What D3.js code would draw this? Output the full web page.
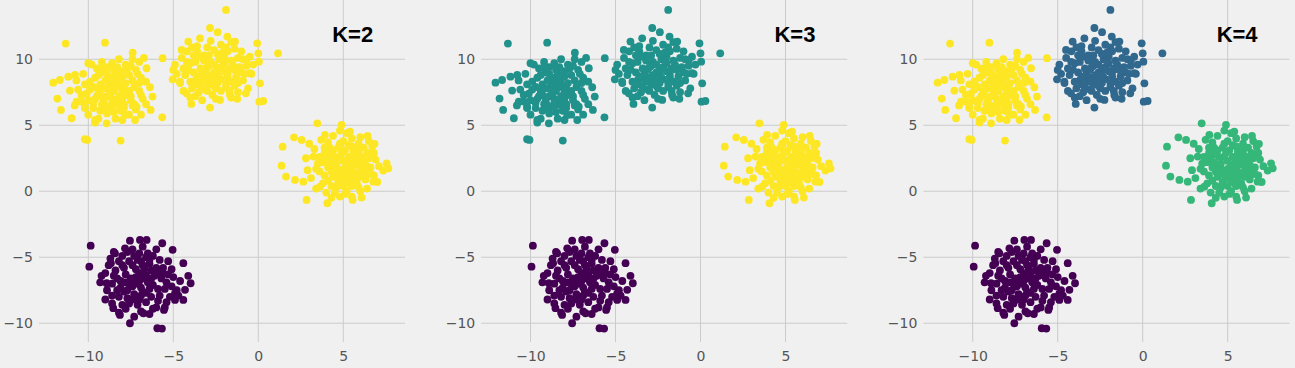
<!DOCTYPE html>
<html>
<head>
<meta charset="utf-8">
<script src="https://cdn.jsdelivr.net/npm/d3@7"></script>
<style>
  html, body { margin: 0; padding: 0; background: #f0f0f0; }
  svg { display: block; }
</style>
</head>
<body>
<svg id="chart" width="1295" height="368"></svg>
<script>
// ---- Data ----
const clusterA = [
  [-8.5,7.6],[-8.1,8.0],[-8.9,7.2],[-9.3,8.1],[-7.7,7.3],[-8.3,6.8],[-8.7,8.6],[-9.6,7.0],[-7.4,8.4],[-8.0,9.1],
  [-9.1,9.0],[-9.9,8.3],[-10.1,7.4],[-9.7,6.3],[-8.9,5.9],[-8.1,6.1],[-7.3,6.6],[-7.0,7.6],[-7.2,9.2],[-7.8,9.6],
  [-8.6,9.7],[-9.5,9.3],[-10.3,8.9],[-10.4,6.8],[-9.2,6.6],[-8.4,5.5],[-7.6,5.8],[-6.9,8.6],[-6.8,7.0],[-7.9,7.8],
  [-8.8,8.2],[-9.4,7.6],[-8.2,7.2],[-7.5,6.9],[-9.0,6.5],[-10.0,5.8],[-9.8,9.6],[-8.9,9.4],[-7.0,9.8],[-6.6,8.3],
  [-7.6,8.8],[-8.4,8.4],[-9.7,7.9],[-10.6,7.7],[-10.2,6.3],[-9.4,5.5],[-8.6,6.4],[-7.9,6.6],[-7.2,6.2],[-6.6,6.6],
  [-6.9,5.8],[-8.0,5.4],[-9.6,5.2],[-10.7,8.4],[-10.8,6.5],[-9.2,9.8],[-8.2,10.0],[-7.4,10.0],[-8.6,7.0],[-9.1,7.8],
  [-8.3,7.9],[-8.7,7.4],[-8.0,7.0],[-9.0,8.4],[-8.4,8.9],[-7.8,8.2],[-9.3,7.3],[-8.6,6.7],[-7.6,7.6],[-9.1,6.9],
  [-8.2,8.5],[-8.9,8.9],[-9.6,8.6],[-9.9,7.7],[-7.3,7.9],[-7.9,6.3],[-8.5,6.0],[-9.3,6.1],[-10.0,6.9],[-7.1,8.9],
  [-7.7,9.3],[-8.3,9.4],[-9.4,8.8],[-10.2,8.1],[-6.9,7.3],[-7.4,6.5],[-8.8,7.7],[-8.0,7.5],[-9.5,7.2],[-8.6,8.0],
  [-7.5,7.2],[-8.2,6.5],[-9.7,6.7],[-10.4,7.3],[-7.0,8.2],[-8.9,6.3],[-8.0,8.7],[-9.2,9.4],[-7.5,9.5],[-8.5,9.2],
  [-11.33,11.19],[-9.02,11.26],[-7.39,10.5],[-6.73,10.1],[-5.63,10.08],[-12.06,8.23],[-11.82,7.02],[-11.61,6.16],
  [-10.98,5.53],[-10.2,3.94],[-10.06,3.89],[-8.1,3.84],[-7.25,5.4],[-6.33,6.16],[-6.22,7.17],[-6.37,7.88],
  [-5.65,5.6],[-6.57,9.32],[-11.08,7.63],[-11.67,8.43],[-10.78,8.81],[-10.0,9.7],[-9.6,5.4],[-8.92,5.15],
  [-7.84,5.78],[-7.16,6.41],[-10.2,6.41],[-10.69,6.79],[-11.18,8.68]
];
const clusterB = [
  [-2.6,9.0],[-2.2,9.4],[-3.0,8.6],[-3.4,9.3],[-1.8,8.7],[-2.4,8.2],[-2.8,9.8],[-3.7,8.4],[-1.5,9.6],[-2.0,10.2],
  [-3.2,10.3],[-4.0,9.7],[-4.3,8.8],[-3.9,7.8],[-3.1,7.7],[-2.2,7.6],[-1.4,8.0],[-1.0,9.0],[-1.2,10.1],[-1.8,10.6],
  [-2.6,10.7],[-3.6,10.6],[-4.5,10.1],[-4.6,8.2],[-3.5,7.5],[-2.7,7.3],[-1.9,7.9],[-0.9,8.4],[-0.7,9.5],[-2.4,8.8],
  [-3.3,8.9],[-2.0,9.1],[-1.6,8.3],[-2.9,8.1],[-3.8,9.0],[-4.4,7.6],[-4.2,10.6],[-3.0,10.9],[-1.4,10.8],[-0.5,10.2],
  [-0.4,8.9],[-1.2,7.5],[-2.5,7.0],[-3.3,6.9],[-4.0,7.1],[-4.8,8.9],[-4.9,9.6],[-3.6,11.0],[-2.2,11.1],[-1.0,10.6],
  [-0.3,9.6],[-0.6,7.8],[-1.6,7.1],[-2.9,9.5],[-2.3,10.0],[-1.7,9.3],[-3.6,8.1],[-2.8,11.4],[-1.6,11.3],[-3.9,10.9],
  [-2.4,9.2],[-2.8,8.8],[-2.2,8.5],[-3.1,9.2],[-2.0,9.7],[-2.6,9.6],[-3.4,8.6],[-1.9,8.2],[-2.7,8.4],[-3.2,9.9],
  [-1.6,9.9],[-3.7,9.8],[-4.1,9.2],[-3.6,8.7],[-1.3,8.7],[-1.1,9.4],[-2.1,10.5],[-2.9,10.3],[-3.5,10.2],[-4.0,8.3],
  [-2.5,7.8],[-1.7,7.6],[-3.2,8.3],[-1.4,9.2],[-0.9,10.0],[-2.3,8.6],[-3.0,9.4],[-2.1,9.9],[-3.8,10.3],[-4.2,9.8],
  [-1.8,9.0],[-2.6,8.0],[-3.4,7.9],[-1.2,8.2],[-0.8,8.9],[-2.4,10.4],[-3.0,7.6],[-1.9,10.9],[-4.4,9.3],[-3.7,7.2],
  [-1.9,13.74],[-2.84,12.37],[-2.39,12.05],[-0.06,11.21],[1.16,10.45],[0.0,10.45],[0.04,9.82],[0.1,8.18],
  [0.06,6.79],[0.29,6.84],[-0.73,7.42],[-1.24,7.0],[-2.84,6.34],[-3.94,6.62],[-5.04,8.48],[-5.0,9.19],
  [-4.51,10.71],[-4.12,11.34],[-3.43,11.59],[-1.82,11.72],[-1.37,11.34],[-0.69,9.95],[-0.49,8.94],
  [-4.22,7.42],[-2.25,6.92],[-1.67,7.3],[-4.61,8.31]
];
const clusterC = [
  [5.0,1.7],[5.4,2.1],[4.6,1.3],[4.2,2.2],[5.8,1.4],[5.2,0.9],[4.8,2.6],[3.9,1.2],[6.1,2.3],[5.6,3.0],
  [4.4,3.1],[3.6,2.6],[3.4,1.7],[3.8,0.6],[4.6,0.3],[5.5,0.4],[6.3,0.9],[6.6,1.8],[6.4,2.9],[5.9,3.6],
  [5.0,3.8],[4.1,3.7],[3.3,3.2],[3.1,1.0],[4.0,-0.1],[5.1,-0.2],[6.0,0.0],[6.8,1.2],[6.9,2.4],[5.3,1.5],
  [4.5,1.9],[5.7,2.5],[5.0,2.3],[4.9,1.0],[4.3,1.5],[5.6,1.0],[6.2,1.6],[4.7,3.3],[5.3,3.5],[5.9,2.9],
  [3.7,3.9],[4.4,4.2],[5.2,4.4],[6.0,4.1],[6.7,3.4],[7.1,1.9],[7.0,0.7],[6.4,0.2],[5.5,-0.4],[4.3,-0.5],
  [3.4,0.2],[2.9,1.6],[2.8,2.5],[3.0,3.6],[4.8,4.6],[5.5,4.0],[3.9,2.9],[4.1,0.8],[5.8,0.6],[6.5,3.8],
  [5.2,1.9],[4.8,1.5],[5.5,1.7],[4.6,2.1],[5.1,1.2],[5.7,2.0],[4.4,1.1],[5.3,2.6],[4.9,2.9],[6.0,1.9],
  [4.1,1.8],[3.8,2.2],[4.7,0.7],[5.4,0.6],[6.0,1.1],[5.8,3.2],[4.5,2.6],[4.0,2.6],[5.1,3.1],[6.3,2.0],
  [6.5,2.5],[6.6,1.3],[3.6,1.5],[4.3,0.4],[5.0,0.4],[5.9,0.3],[4.2,3.3],[5.5,3.4],[6.2,3.3],[4.8,3.6],
  [3.5,2.1],[4.6,1.7],[5.6,2.7],[4.2,2.8],[5.2,0.0],[6.8,2.9],[3.9,3.3],[4.5,-0.1],[6.1,2.6],[5.4,1.3],
  [3.47,5.15],[4.9,5.03],[5.39,4.52],[6.43,4.19],[6.84,3.59],[6.76,2.88],[7.55,2.12],[7.65,1.74],
  [7.35,1.57],[6.76,0.73],[6.08,-0.48],[5.55,-0.66],[4.8,-0.4],[4.06,-0.91],[2.84,-0.66],[2.16,0.86],
  [1.63,1.11],[1.37,1.94],[1.43,3.38],[2.1,4.09],[2.55,3.89],[3.92,4.27],[2.65,0.73],[3.24,2.63],
  [6.37,1.36],[5.98,2.37],[3.63,0.35]
];
const clusterD = [
  [-7.0,-6.8],[-6.6,-6.4],[-7.4,-7.2],[-7.8,-6.3],[-6.2,-7.1],[-6.8,-7.6],[-7.2,-5.9],[-8.1,-7.3],[-5.9,-6.2],[-6.4,-5.5],
  [-7.6,-5.3],[-8.4,-6.0],[-8.6,-7.0],[-8.2,-8.0],[-7.4,-8.2],[-6.6,-8.4],[-5.8,-7.9],[-5.4,-6.9],[-5.6,-5.8],[-6.2,-4.9],
  [-7.0,-4.7],[-8.0,-4.9],[-8.8,-5.6],[-8.9,-7.5],[-8.6,-8.5],[-7.8,-8.9],[-6.9,-9.1],[-6.0,-8.8],[-5.2,-8.0],[-5.0,-6.5],
  [-4.8,-7.5],[-5.3,-5.3],[-6.0,-4.4],[-6.8,-4.2],[-7.4,-4.4],[-7.9,-7.6],[-6.3,-6.0],[-7.2,-6.5],[-6.9,-7.9],[-6.4,-7.4],
  [-5.7,-6.6],[-7.6,-7.0],[-8.3,-6.6],[-8.0,-5.6],[-7.1,-5.2],[-6.6,-5.0],[-5.1,-5.9],[-4.6,-6.8],[-4.7,-7.9],[-5.5,-8.8],
  [-6.4,-9.3],[-7.3,-9.5],[-8.2,-9.2],[-9.0,-8.2],[-9.3,-6.9],[-9.0,-6.2],[-5.9,-7.4],[-7.7,-8.1],[-6.8,-5.6],[-8.5,-4.6],
  [-6.8,-6.6],[-7.2,-7.0],[-6.5,-6.9],[-7.5,-6.6],[-7.0,-6.2],[-6.9,-7.3],[-7.7,-7.5],[-6.3,-6.6],[-7.9,-5.8],[-6.0,-5.8],
  [-6.7,-5.9],[-7.4,-5.6],[-8.2,-5.3],[-8.5,-6.4],[-8.3,-7.5],[-7.1,-8.6],[-6.3,-8.0],[-5.5,-7.4],[-5.3,-6.3],[-5.8,-5.2],
  [-6.5,-4.7],[-7.7,-4.6],[-6.1,-6.4],[-7.6,-8.5],[-8.6,-7.9],[-6.6,-7.7],[-5.9,-8.3],[-5.1,-7.2],[-6.9,-5.3],[-7.3,-4.9],
  [-8.7,-5.1],[-8.0,-8.6],[-7.0,-8.2],[-6.2,-8.9],[-5.6,-6.2],[-7.8,-6.9],[-6.4,-5.2],[-7.3,-7.8],[-8.1,-6.8],[-5.4,-8.4],
  [-9.86,-4.12],[-9.94,-5.71],[-7.55,-3.74],[-6.96,-3.69],[-6.57,-3.69],[-5.65,-3.94],[-5.04,-4.44],[-4.41,-5.45],
  [-4.12,-6.41],[-3.98,-6.97],[-4.41,-8.23],[-4.9,-8.23],[-5.55,-8.99],[-5.94,-10.38],[-5.67,-10.4],[-6.76,-9.24],
  [-7.55,-10.0],[-8.14,-9.37],[-8.53,-8.86],[-9.22,-6.41],[-8.92,-6.97],[-8.67,-5.45],[-8.43,-4.7],[-7.84,-4.32],
  [-4.31,-7.47],[-4.9,-7.73]
];
const clusters = [clusterA, clusterB, clusterC, clusterD];

const panelTitles = ["K=2", "K=3", "K=4"];
const kValues = [2, 3, 4];
// cluster label assigned to each blob (A, B, C, D) in each panel
const labelsK2 = [1, 1, 1, 0];
const labelsK3 = [1, 1, 2, 0];
const labelsK4 = [3, 1, 2, 0];
const panelLabels = [labelsK2, labelsK3, labelsK4];

const xTicks = [-10, -5, 0, 5];
const yTicks = [-10, -5, 0, 5, 10];

// ---- Layout ----
const svg = d3.select("#chart");
const panelLeft0 = 39, panelStep = 442.2, panelW = 366;
const plotTop = 0, plotH = 342;

const x = d3.scaleLinear().domain([-12.9, 8.63]).range([0, panelW]);
const y = d3.scaleLinear().domain([-11.42, 14.49]).range([plotH, plotTop]);

const fmt = d => (d < 0 ? "\u2212" + Math.abs(d) : String(d));

panelTitles.forEach((title, i) => {
  const k = kValues[i];
  const color = d3.scaleSequential(d3.interpolateViridis).domain([0, k - 1]);
  const g = svg.append("g").attr("transform", `translate(${panelLeft0 + i * panelStep},0)`);

  // grid
  g.append("g").selectAll("line").data(xTicks).join("line")
    .attr("x1", d => x(d)).attr("x2", d => x(d))
    .attr("y1", plotTop).attr("y2", plotH)
    .attr("stroke", "#cbcbcb").attr("stroke-width", 1);
  g.append("g").selectAll("line").data(yTicks).join("line")
    .attr("x1", 0).attr("x2", panelW)
    .attr("y1", d => y(d)).attr("y2", d => y(d))
    .attr("stroke", "#cbcbcb").attr("stroke-width", 1);

  // axes (tick labels only)
  const xAxis = d3.axisBottom(x).tickValues(xTicks).tickSize(0).tickPadding(9).tickFormat(fmt);
  const yAxis = d3.axisLeft(y).tickValues(yTicks).tickSize(0).tickPadding(6).tickFormat(fmt);
  const gx = g.append("g").attr("transform", `translate(0,${plotH})`).call(xAxis);
  const gy = g.append("g").call(yAxis);
  [gx, gy].forEach(a => {
    a.select(".domain").remove();
    a.selectAll("text")
      .attr("fill", "#555")
      .style("font-family", "'DejaVu Sans', sans-serif")
      .style("font-size", "14px");
  });

  // points
  const labels = panelLabels[i];
  const pts = [];
  clusters.forEach((c, ci) => c.forEach(p => pts.push({ x: p[0], y: p[1], l: labels[ci] })));
  g.append("g").selectAll("circle").data(pts).join("circle")
    .attr("cx", d => x(d.x)).attr("cy", d => y(d.y))
    .attr("r", 3.9)
    .attr("fill", d => color(d.l));

  // title
  g.append("text")
    .attr("x", x(4.35)).attr("y", 42)
    .attr("fill", "#000")
    .style("font-family", "'Liberation Sans', Arial, sans-serif")
    .style("font-weight", "bold")
    .style("font-size", "22px")
    .text(title);
});
</script>
</body>
</html>
